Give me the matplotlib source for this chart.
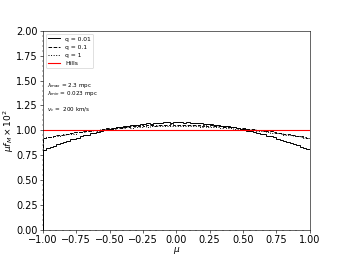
import numpy as np
import matplotlib
matplotlib.use('Agg')
import matplotlib.pyplot as plt

edges = np.linspace(-1, 1, 81)

# half profiles from mu=0 outwards (bin width 0.025)
q001_half = [1.080, 1.080, 1.079, 1.078, 1.076, 1.075, 1.073, 1.070, 1.067, 1.064,
             1.061, 1.057, 1.053, 1.048, 1.043, 1.038, 1.032, 1.026, 1.020, 1.013,
             1.006, 0.999, 0.991, 0.983, 0.975, 0.966, 0.957, 0.948, 0.938, 0.928,
             0.917, 0.906, 0.895, 0.884, 0.872, 0.859, 0.847, 0.834, 0.821, 0.807]
q01_half = [1.055, 1.055, 1.054, 1.054, 1.053, 1.052, 1.051, 1.050, 1.049, 1.047,
            1.046, 1.044, 1.042, 1.040, 1.037, 1.035, 1.032, 1.029, 1.026, 1.023,
            1.020, 1.016, 1.012, 1.008, 1.004, 1.000, 0.996, 0.991, 0.986, 0.982,
            0.977, 0.971, 0.966, 0.960, 0.955, 0.949, 0.943, 0.936, 0.930, 0.923]
q1_half = [1.045, 1.045, 1.044, 1.044, 1.043, 1.043, 1.042, 1.040, 1.039, 1.038,
           1.036, 1.034, 1.032, 1.030, 1.028, 1.025, 1.023, 1.020, 1.017, 1.014,
           1.011, 1.007, 1.004, 1.000, 0.996, 0.992, 0.988, 0.984, 0.979, 0.974,
           0.969, 0.964, 0.959, 0.954, 0.948, 0.943, 0.937, 0.931, 0.925, 0.918]
# bin-to-bin scatter, left and right halves
jit_l = [0.002, -0.003, 0.001, 0.004, -0.002, 0.000, 0.003, -0.004, 0.002, -0.001,
         0.003, -0.002, 0.000, 0.004, -0.003, 0.001, -0.002, 0.003, 0.000, -0.004,
         0.002, 0.001, -0.003, 0.004, -0.001, 0.002, -0.004, 0.001, 0.003, -0.002,
         0.000, 0.004, -0.003, 0.002, -0.001, 0.003, -0.004, 0.002, 0.000, -0.002]
jit_r = [-0.001, 0.003, -0.004, 0.002, 0.000, -0.002, 0.004, 0.001, -0.003, 0.002,
         -0.002, 0.000, 0.003, -0.004, 0.001, 0.002, -0.003, 0.004, -0.001, 0.000,
         0.003, -0.002, 0.001, -0.004, 0.002, 0.000, 0.003, -0.003, 0.001, 0.004,
         -0.002, 0.000, 0.002, -0.004, 0.003, -0.001, 0.001, -0.003, 0.004, 0.000]
hills = 1.0


def full(half, a, b):
    left = [h + j for h, j in zip(half, a)][::-1]
    right = [h + j for h, j in zip(half, b)]
    return left + right


q001 = full(q001_half, jit_l, jit_r)
q01 = full(q01_half, jit_r[::-1], jit_l)
q1 = full(q1_half, jit_r, jit_l[::-1])

fig, ax = plt.subplots(figsize=(6.4, 4.8), dpi=53.75)
ax.stairs(q001, edges, color='k', ls='-', lw=1.3, label='q = 0.01')
ax.stairs(q01, edges, color='k', ls='--', lw=1.3, label='q = 0.1')
ax.stairs(q1, edges, color='k', ls=':', lw=1.3, label='q = 1')
ax.axhline(hills, color='red', lw=1.5, label='Hills')

ax.set_xlim(-1, 1)
ax.set_ylim(0, 2)
ax.set_xticks(np.arange(-1, 1.01, 0.25))
ax.set_yticks(np.arange(0, 2.01, 0.25))
ax.minorticks_on()
ax.tick_params(labelsize=13)
ax.set_xlabel(r'$\mu$', fontsize=12, labelpad=0)
ax.set_ylabel(r'$\mu f_M \times 10^2$', fontsize=12, labelpad=0)
ax.legend(loc='upper left', fontsize=8)
ax.text(-0.97, 1.44, r'$\lambda_{max}$ = 2.3 mpc', fontsize=7.5)
ax.text(-0.97, 1.355, r'$\lambda_{min}$ = 0.023 mpc', fontsize=7.5)
ax.text(-0.97, 1.19, r'$v_c$ =  200 km/s', fontsize=7.5)
plt.savefig('out.png')
